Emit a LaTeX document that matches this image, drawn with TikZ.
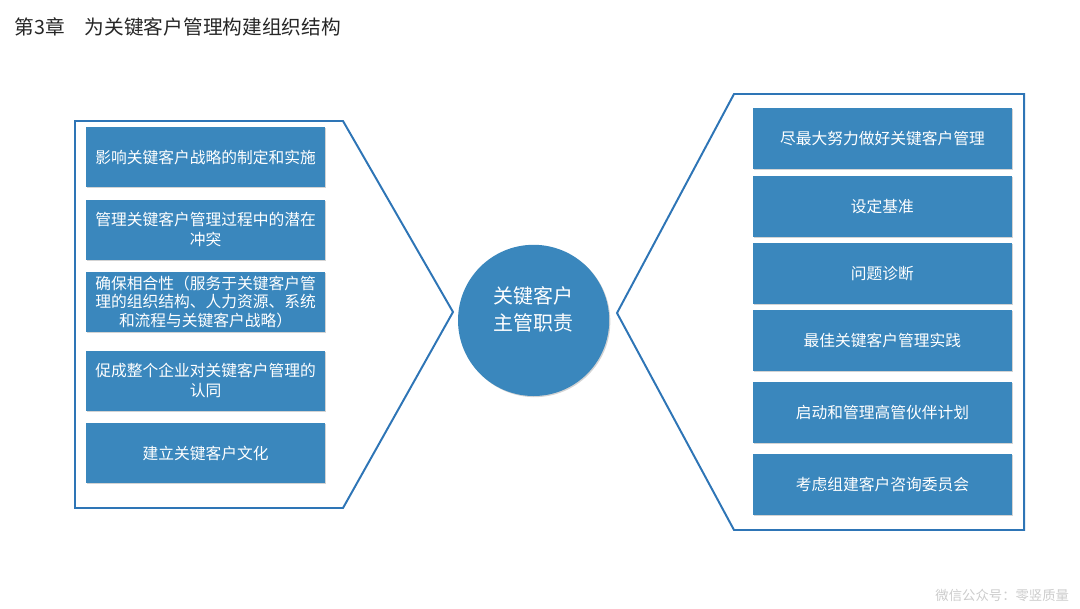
\documentclass[tikz,border=0pt]{standalone}
\usepackage{fontspec}
\setmainfont{Noto Sans CJK SC}
\definecolor{kamblue}{RGB}{58, 135, 189}
\definecolor{kamline}{RGB}{46, 117, 182}
\usetikzlibrary{shadows}

\begin{document}
\begin{tikzpicture}[
  kbox/.style={fill=kamblue, draw=none, text=white, align=center, minimum height=1.5cm, inner sep=0pt,
    font=\fontsize{11.2}{14.2}\selectfont, drop shadow={shadow xshift=0.8pt, shadow yshift=-0.8pt, opacity=0.35}},
  lbox/.style={kbox, minimum width=5.975cm},
  rbox/.style={kbox, minimum width=6.475cm, minimum height=1.525cm},
  hub/.style={circle, fill=kamblue, minimum size=3.78cm, inner sep=0pt,
    drop shadow={shadow xshift=0.8pt, shadow yshift=-0.8pt, opacity=0.35}},
  hubtext/.style={text=white, align=center, font=\fontsize{14.2}{19}\selectfont},
  frame/.style={draw=kamline, line width=1.4pt, line join=miter}
]
  \useasboundingbox (0,0) rectangle (27,15.2);

  \node[anchor=west, text=black!85, font=\fontsize{14}{16}\selectfont] (title) at (0.25, 14.525) {第3章\hspace{1em}为关键客户管理构建组织结构};

  \draw[frame] (1.875, 12.175) -- (8.575, 12.175) -- (11.325, 7.4) -- (8.575, 2.5) -- (1.875, 2.5) -- cycle;
  \draw[frame] (18.35, 12.85) -- (25.6, 12.85) -- (25.6, 1.95) -- (18.35, 1.95) -- (15.425, 7.375) -- cycle;

  \node[lbox] (l1) at (5.14, 11.275) {影响关键客户战略的制定和实施};
  \node[lbox] (l2) at (5.14, 9.4625) {管理关键客户管理过程中的潜在\\冲突};
  \node[lbox, font=\fontsize{11.2}{13}\selectfont] (l3) at (5.14, 7.65) {确保相合性（服务于关键客户管\\理的组织结构、人力资源、系统\\和流程与关键客户战略）};
  \node[lbox] (l4) at (5.14, 5.6875) {促成整个企业对关键客户管理的\\认同};
  \node[lbox] (l5) at (5.14, 3.875) {建立关键客户文化};

  \node[hub] (hub) at (13.34, 7.19) {};
  \node[hubtext] (hubt) at ([yshift=0.28cm]hub.center) {关键客户\\主管职责};

  \node[rbox] (r1) at (22.06, 11.7375) {尽最大努力做好关键客户管理};
  \node[rbox] (r2) at (22.06, 10.0375) {设定基准};
  \node[rbox] (r3) at (22.06, 8.3625) {问题诊断};
  \node[rbox] (r4) at (22.06, 6.6875) {最佳关键客户管理实践};
  \node[rbox] (r5) at (22.06, 4.8875) {启动和管理高管伙伴计划};
  \node[rbox] (r6) at (22.06, 3.0875) {考虑组建客户咨询委员会};

  \node[anchor=east, text=black!20, font=\fontsize{9.5}{11}\selectfont] (mark) at (26.85, 0.325) {微信公众号：零竖质量};
\end{tikzpicture}
\end{document}
